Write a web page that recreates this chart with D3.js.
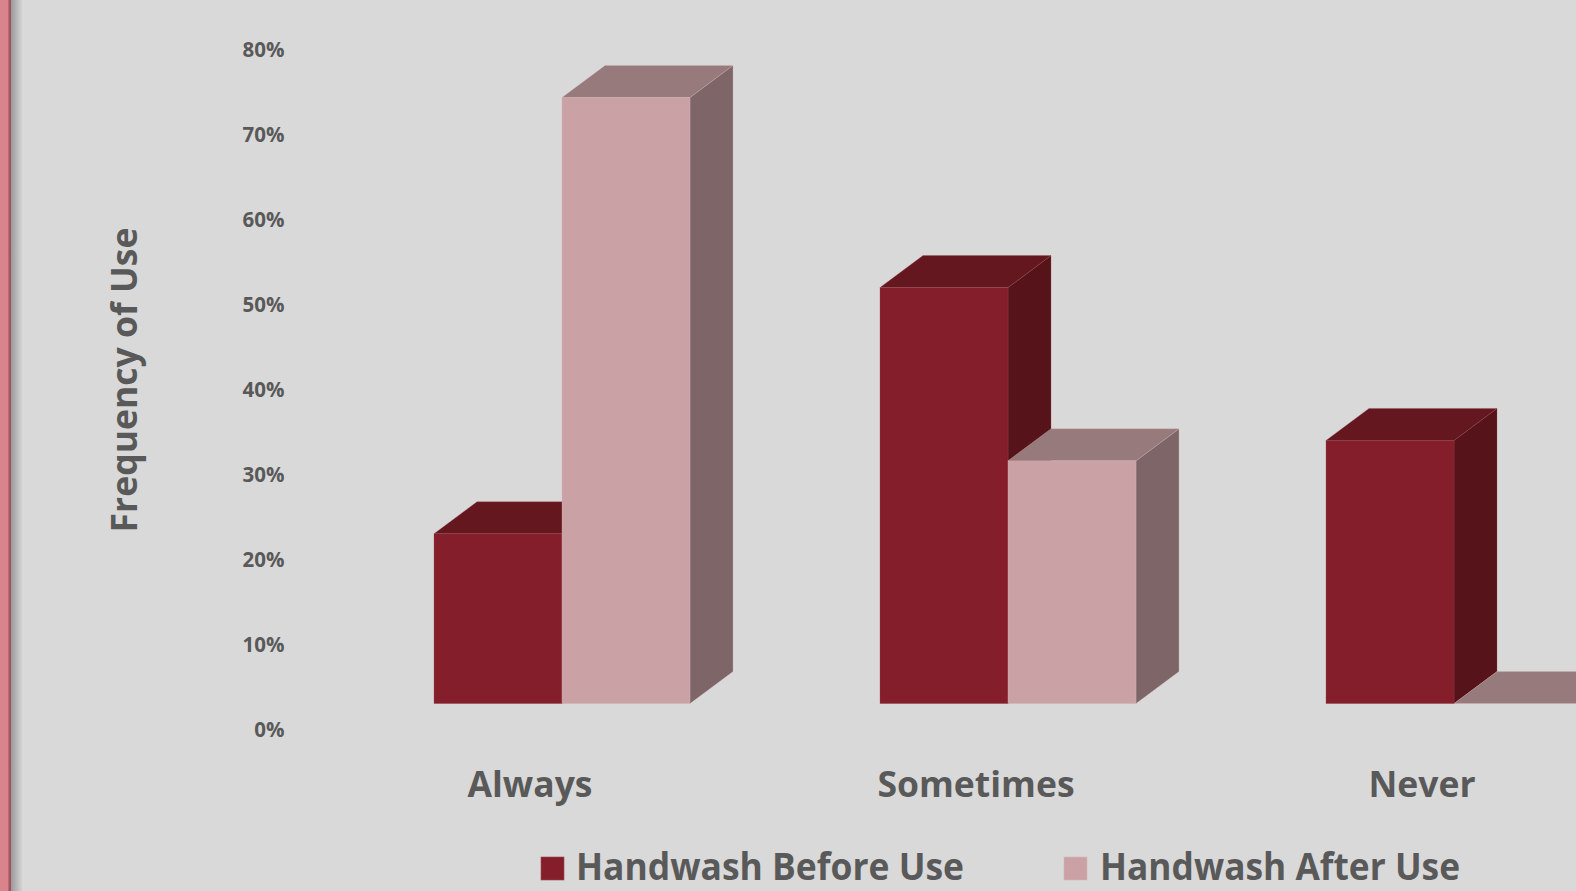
<!DOCTYPE html>
<html><head><meta charset="utf-8">
<script src="https://cdn.jsdelivr.net/npm/d3@7"></script>
<style>
html,body{margin:0;padding:0;background:#d9d9d9;overflow:hidden}
svg{display:block}
</style></head>
<body>
<svg id="chart" width="1576" height="891"></svg>
<script>
const categories = ["Always", "Sometimes", "Never"];
const seriesNames = ["Handwash Before Use", "Handwash After Use"];
const beforeValues = [20, 49, 31];
const afterValues = [71.4, 28.6, 0];
const yTicks = [0, 10, 20, 30, 40, 50, 60, 70, 80];

const W = 1576, H = 891;
const svg = d3.select("#chart");
const textColor = "#595959";
const font = "'Open Sans', 'DejaVu Sans', sans-serif";

svg.append("rect").attr("width", W).attr("height", H).attr("fill", "#d9d9d9");

const defs = svg.append("defs");
const g1 = defs.append("linearGradient").attr("id", "shadow").attr("x1", 0).attr("x2", 1).attr("y1", 0).attr("y2", 0);
g1.append("stop").attr("offset", 0).attr("stop-color", "#9a9a9a");
g1.append("stop").attr("offset", 1).attr("stop-color", "#d9d9d9");
svg.append("rect").attr("x", 11).attr("y", 0).attr("width", 12).attr("height", H).attr("fill", "url(#shadow)");
svg.append("rect").attr("x", 0).attr("y", 0).attr("width", 9).attr("height", H).attr("fill", "#d9838c");
svg.append("rect").attr("x", 8.5).attr("y", 0).attr("width", 2.5).attr("height", H).attr("fill", "#a0545d");

const baseY = 703.6;
const y = d3.scaleLinear().domain([0, 80]).range([baseY, baseY - 8 * 84.9]);
const x0 = d3.scaleBand().domain(categories).range([339, 1677]).paddingInner(0.426).paddingOuter(0.213);
const x1 = d3.scaleBand().domain(seriesNames).range([0, x0.bandwidth()]).padding(0);

const depthX = 43, depthY = 32;
const colors = {
  "Handwash Before Use": {front: "#841e2a", top: "#65171f", side: "#56131a", stroke: "#9b4a52"},
  "Handwash After Use": {front: "#caa2a6", top: "#977a7b", side: "#7e6567", stroke: "#d6b5b8"}
};

const yAxis = d3.axisLeft(y).tickValues(yTicks).tickSize(0).tickPadding(0).tickFormat(d => d + "%");
const ya = svg.append("g").attr("transform", "translate(284.5,26)").call(yAxis);
ya.select(".domain").remove();
ya.selectAll("text").attr("fill", textColor).style("font-family", font).style("font-weight", "700").style("font-size", "20.5px");

svg.append("text").attr("transform", "translate(137,380) rotate(-90)")
  .attr("text-anchor", "middle").attr("fill", textColor)
  .style("font-family", font).style("font-weight", "700").style("font-size", "35.5px")
  .text("Frequency of Use");

const bars = [];
categories.forEach((c, i) => {
  bars.push({cat: c, series: seriesNames[0], value: beforeValues[i]});
  bars.push({cat: c, series: seriesNames[1], value: afterValues[i]});
});
const barG = svg.append("g");
bars.forEach(b => {
  const xl = x0(b.cat) + x1(b.series);
  const xr = xl + x1.bandwidth();
  const yt = y(b.value);
  const col = colors[b.series];
  const g = barG.append("g");
  g.append("path").attr("d", `M${xr},${baseY} L${xr + depthX},${baseY - depthY} L${xr + depthX},${yt - depthY} L${xr},${yt} Z`)
    .attr("fill", col.side).attr("stroke", col.stroke).attr("stroke-width", 0.6).attr("stroke-opacity", 0.5);
  g.append("path").attr("d", `M${xl},${yt} L${xl + depthX},${yt - depthY} L${xr + depthX},${yt - depthY} L${xr},${yt} Z`)
    .attr("fill", col.top).attr("stroke", col.stroke).attr("stroke-width", 0.6).attr("stroke-opacity", 0.5);
  if (baseY - yt > 0) {
    g.append("rect").attr("x", xl).attr("y", yt).attr("width", xr - xl).attr("height", baseY - yt)
      .attr("fill", col.front).attr("stroke", col.stroke).attr("stroke-width", 0.6).attr("stroke-opacity", 0.5);
  }
});

svg.append("g").selectAll("text").data(categories).join("text")
  .attr("x", d => x0(d) + x0.bandwidth() / 2 - 32)
  .attr("y", 797)
  .attr("text-anchor", "middle").attr("fill", textColor)
  .style("font-family", font).style("font-weight", "700").style("font-size", "35.5px")
  .text(d => d);

const legendItems = [
  {name: seriesNames[0], sx: 541, tx: 576, len: 388},
  {name: seriesNames[1], sx: 1064, tx: 1100, len: 360}
];
const lg = svg.append("g");
legendItems.forEach(it => {
  lg.append("rect").attr("x", it.sx).attr("y", 857).attr("width", 23).attr("height", 23)
    .attr("fill", colors[it.name].front).attr("stroke", colors[it.name].stroke).attr("stroke-width", 0.6);
  lg.append("text").attr("x", it.tx).attr("y", 880)
    .attr("textLength", it.len).attr("lengthAdjust", "spacingAndGlyphs")
    .attr("fill", textColor)
    .style("font-family", font).style("font-weight", "700").style("font-size", "37px")
    .text(it.name);
});
</script>
</body></html>
